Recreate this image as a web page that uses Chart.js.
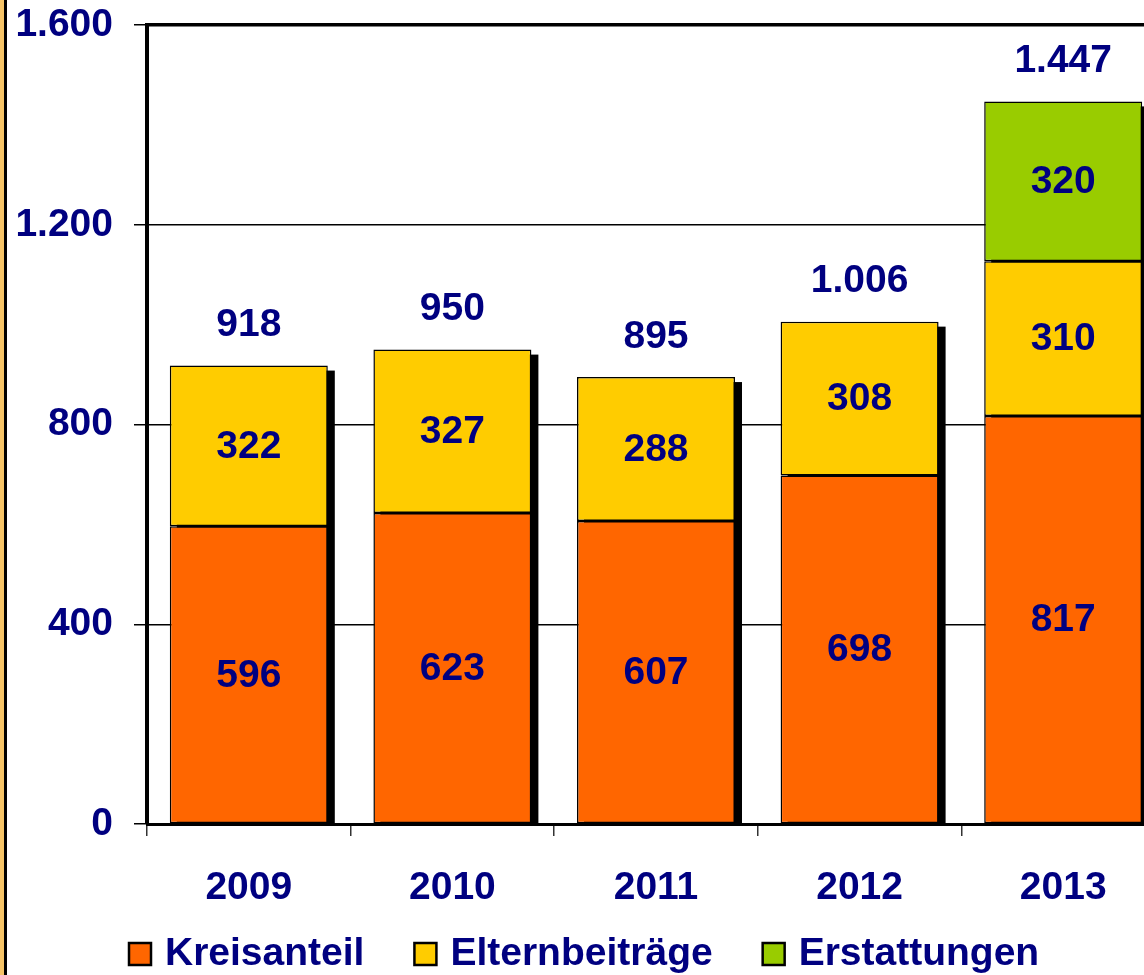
<!DOCTYPE html>
<html>
<head>
<meta charset="utf-8">
<script src="https://cdn.jsdelivr.net/npm/chart.js@4"></script>
<style>
  html, body { margin: 0; padding: 0; background: #fff; overflow: hidden; }
  #wrap { position: relative; width: 1144px; height: 975px; overflow: hidden; }
  #edge { position: absolute; left: 0; top: 0; width: 4px; height: 975px; background: #f6c467; border-right: 3px solid #000; }
</style>
</head>
<body>
<div id="wrap">
  <canvas id="myChart" width="1178" height="975"></canvas>
  <div id="edge"></div>
</div>
<script>
var years = ['2009', '2010', '2011', '2012', '2013'];
var kreisanteil = [596, 623, 607, 698, 817];
var elternbeitraege = [322, 327, 288, 308, 310];
var erstattungen = [null, null, null, null, 320];
var yTicks = [0, 400, 800, 1200, 1600];

var navy = '#000080';
var fontFamily = '"Liberation Sans", Arial, sans-serif';
var boldFont = 'bold 39px ' + fontFamily;

// 1600 -> "1.600"
function fmt(v) {
  return String(v).replace(/\B(?=(\d{3})+(?!\d))/g, '.');
}

// black drop shadow behind each stacked column
var shadowPlugin = {
  id: 'shadow',
  beforeDatasetsDraw: function(chart) {
    var ctx = chart.ctx;
    var metas = chart.getSortedVisibleDatasetMetas();
    ctx.save();
    ctx.fillStyle = '#000';
    years.forEach(function(y, i) {
      var top = null, bar = null;
      metas.forEach(function(m) {
        var el = m.data[i];
        if (el && chart.data.datasets[m.index].data[i] != null) {
          if (top === null || el.y < top) { top = el.y; bar = el; }
        }
      });
      if (!bar) return;
      ctx.fillRect(bar.x - bar.width / 2 + 7, top + 5, bar.width, chart.chartArea.bottom - top - 5);
    });
    ctx.restore();
  }
};

// segment values and column totals
var labelPlugin = {
  id: 'valueLabels',
  afterDatasetsDraw: function(chart) {
    var ctx = chart.ctx;
    var metas = chart.getSortedVisibleDatasetMetas();
    ctx.save();
    ctx.fillStyle = navy;
    ctx.font = boldFont;
    ctx.textAlign = 'center';
    ctx.textBaseline = 'middle';
    years.forEach(function(y, i) {
      var top = null, x = 0, total = 0;
      metas.forEach(function(m) {
        var v = chart.data.datasets[m.index].data[i];
        if (v == null) return;
        var el = m.data[i];
        total += v;
        x = el.x;
        if (top === null || el.y < top) top = el.y;
        ctx.fillText(fmt(v), el.x, (el.y + el.base) / 2 + 1);
      });
      if (top !== null) ctx.fillText(fmt(total), x, top - 40);
    });
    ctx.restore();
  }
};

// legend row under the axis (box, small gap, text, wide gap)
var legendPlugin = {
  id: 'bottomLegend',
  afterDraw: function(chart) {
    var ctx = chart.ctx;
    var y = 954, x = 128, box = 22;
    ctx.save();
    ctx.font = boldFont;
    ctx.textBaseline = 'middle';
    ctx.textAlign = 'left';
    chart.data.datasets.forEach(function(ds) {
      ctx.fillStyle = ds.backgroundColor;
      ctx.fillRect(x + 1, y - box / 2, box, box);
      ctx.lineWidth = 2.5;
      ctx.strokeStyle = '#000';
      ctx.strokeRect(x + 1, y - box / 2, box, box);
      ctx.fillStyle = navy;
      ctx.fillText(ds.label, x + 37, y);
      x += 37 + ctx.measureText(ds.label).width + 49;
    });
    ctx.restore();
  }
};

var ctx = document.getElementById('myChart').getContext('2d');
var myChart = new Chart(ctx, {
  type: 'bar',
  data: {
    labels: years,
    datasets: [
      { label: 'Kreisanteil', data: kreisanteil, backgroundColor: '#ff6600' },
      { label: 'Elternbeiträge', data: elternbeitraege, backgroundColor: '#ffcc00' },
      { label: 'Erstattungen', data: erstattungen, backgroundColor: '#99cc00' }
    ]
  },
  options: {
    responsive: false,
    animation: false,
    devicePixelRatio: 1,
    layout: { padding: { top: 25, right: 13, left: 0, bottom: 65 } },
    datasets: {
      bar: {
        barPercentage: 0.776,
        categoryPercentage: 1,
        borderColor: '#000',
        borderWidth: 1.5,
        borderSkipped: false
      }
    },
    plugins: {
      tooltip: { enabled: false },
      legend: { display: false }
    },
    scales: {
      x: {
        stacked: true,
        grid: { drawOnChartArea: false, drawTicks: true, tickLength: 12, color: '#333', lineWidth: 1.5 },
        border: { color: '#000', width: 3 },
        ticks: { padding: 29, color: navy, font: { family: fontFamily, size: 39, weight: 'bold' } },
        afterFit: function(s) { s.height = 86; }
      },
      y: {
        stacked: true,
        min: 0,
        max: 1600,
        afterBuildTicks: function(s) {
          s.ticks = yTicks.map(function(v) { return { value: v }; });
        },
        grid: {
          color: '#000',
          lineWidth: function(c) { return c.tick && c.tick.value === 1600 ? 3.5 : 1.5; },
          tickLength: 13,
          tickWidth: 1.5
        },
        border: { color: '#000', width: 4 },
        ticks: {
          padding: 21,
          color: navy,
          font: { family: fontFamily, size: 39, weight: 'bold' },
          callback: function(v) { return fmt(v); }
        },
        afterFit: function(s) {
          s.width = 147;
          s.paddingTop = 0;
          s.paddingBottom = 0;
        }
      }
    }
  },
  plugins: [shadowPlugin, labelPlugin, legendPlugin]
});
</script>
</body>
</html>
